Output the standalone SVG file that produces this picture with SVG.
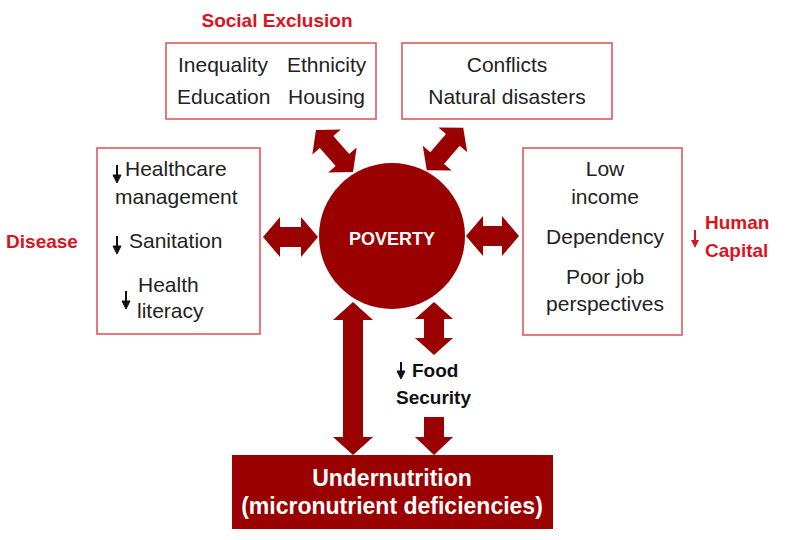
<svg xmlns="http://www.w3.org/2000/svg" width="786" height="540" viewBox="0 0 786 540">
<defs>
<style>
.box{fill:#fff;stroke:#e0585c;stroke-width:1.6}
.dark{fill:#9b0000}
.t{font-family:"Liberation Sans",Arial,sans-serif;font-size:21px;fill:#222}
.lab{font-family:"Liberation Sans",Arial,sans-serif;font-size:19px;font-weight:bold;fill:#d9141e}
.w{font-family:"Liberation Sans",Arial,sans-serif;font-weight:bold;fill:#fff}
.b{font-family:"Liberation Sans",Arial,sans-serif;font-size:19px;font-weight:bold;fill:#111}
.sa{fill:#111;stroke:#111}
</style>
</defs>
<rect width="786" height="540" fill="#fff"/>

<g id="connectors" class="dark">
<path transform="translate(290.5,237)" d="M-27.5 0 L-10.5 -20 L-10.5 -10 L10.5 -10 L10.5 -20 L27.5 0 L10.5 20 L10.5 10 L-10.5 10 L-10.5 20 Z"/>
<path transform="translate(492.5,236)" d="M-26.5 0 L-9.5 -20 L-9.5 -10 L9.5 -10 L9.5 -20 L26.5 0 L9.5 20 L9.5 10 L-9.5 10 L-9.5 20 Z"/>
<path transform="translate(334.5,151) rotate(48.6)" d="M-28 0 L-12 -19 L-12 -9 L12 -9 L12 -19 L28 0 L12 19 L12 9 L-12 9 L-12 19 Z"/>
<path transform="translate(445,149) rotate(-49.4)" d="M-28 0 L-12 -19 L-12 -9 L12 -9 L12 -19 L28 0 L12 19 L12 9 L-12 9 L-12 19 Z"/>
<path transform="translate(353,378.5) rotate(90)" d="M-76.5 0 L-58.5 -20 L-58.5 -10 L58.5 -10 L58.5 -20 L76.5 0 L58.5 20 L58.5 10 L-58.5 10 L-58.5 20 Z"/>
<path transform="translate(434,328.5) rotate(90)" d="M-26.5 0 L-9.5 -19 L-9.5 -10 L9.5 -10 L9.5 -19 L26.5 0 L9.5 19 L9.5 10 L-9.5 10 L-9.5 19 Z"/>
<path d="M424 417 L444 417 L444 437 L453 437 L434 455 L415 437 L424 437 Z"/>
</g>

<g id="poverty">
<circle class="dark" cx="392" cy="236" r="73"/>
<text class="w" x="392" y="245" font-size="18" text-anchor="middle">POVERTY</text>
</g>

<g id="social-exclusion">
<text class="lab" x="277" y="27" text-anchor="middle">Social Exclusion</text>
<rect class="box" x="166" y="43" width="210" height="76"/>
<text class="t" x="178" y="72">Inequality</text>
<text class="t" x="287" y="72">Ethnicity</text>
<text class="t" x="177" y="104">Education</text>
<text class="t" x="288" y="104">Housing</text>
</g>

<g id="conflicts">
<rect class="box" x="402" y="43" width="210" height="76"/>
<text class="t" x="507" y="72" text-anchor="middle">Conflicts</text>
<text class="t" x="507" y="104" text-anchor="middle">Natural disasters</text>
</g>

<g id="disease">
<text class="lab" x="42" y="248" text-anchor="middle">Disease</text>
<rect class="box" x="97" y="148" width="163" height="186"/>
<path class="sa" d="M117 165 V176" stroke-width="2"/><path class="sa" stroke="none" d="M113 175 L121 175 L117 183 Z"/>
<text class="t" x="125" y="176">Healthcare</text>
<text class="t" x="115" y="204">management</text>
<path class="sa" d="M117 236 V247" stroke-width="2"/><path class="sa" stroke="none" d="M113 246 L121 246 L117 254 Z"/>
<text class="t" x="129" y="248">Sanitation</text>
<path class="sa" d="M126 291 V302" stroke-width="2"/><path class="sa" stroke="none" d="M122 301 L130 301 L126 309 Z"/>
<text class="t" x="138" y="292">Health</text>
<text class="t" x="137" y="318">literacy</text>
</g>

<g id="human-capital">
<rect class="box" x="523" y="148" width="159" height="187"/>
<text class="t" x="605" y="176" text-anchor="middle">Low</text>
<text class="t" x="605" y="204" text-anchor="middle">income</text>
<text class="t" x="605" y="244" text-anchor="middle">Dependency</text>
<text class="t" x="605" y="284" text-anchor="middle">Poor job</text>
<text class="t" x="605" y="311" text-anchor="middle">perspectives</text>
<path d="M695 230 V241" stroke="#d9141e" stroke-width="2"/><path d="M691 240 L699 240 L695 248 Z" fill="#d9141e"/>
<text class="lab" x="705" y="229" font-size="20">Human</text>
<text class="lab" x="705" y="257" font-size="20">Capital</text>
</g>

<g id="food-security">
<path class="sa" d="M401 362 V372" stroke-width="2"/><path class="sa" stroke="none" d="M397 371 L405 371 L401 379 Z"/>
<text class="b" x="412" y="377">Food</text>
<text class="b" x="396" y="404">Security</text>
</g>

<g id="undernutrition">
<rect class="dark" x="232" y="455" width="321" height="74"/>
<text class="w" x="392" y="486" font-size="23" text-anchor="middle">Undernutrition</text>
<text class="w" x="392" y="514" font-size="23" text-anchor="middle">(micronutrient deficiencies)</text>
</g>
</svg>
